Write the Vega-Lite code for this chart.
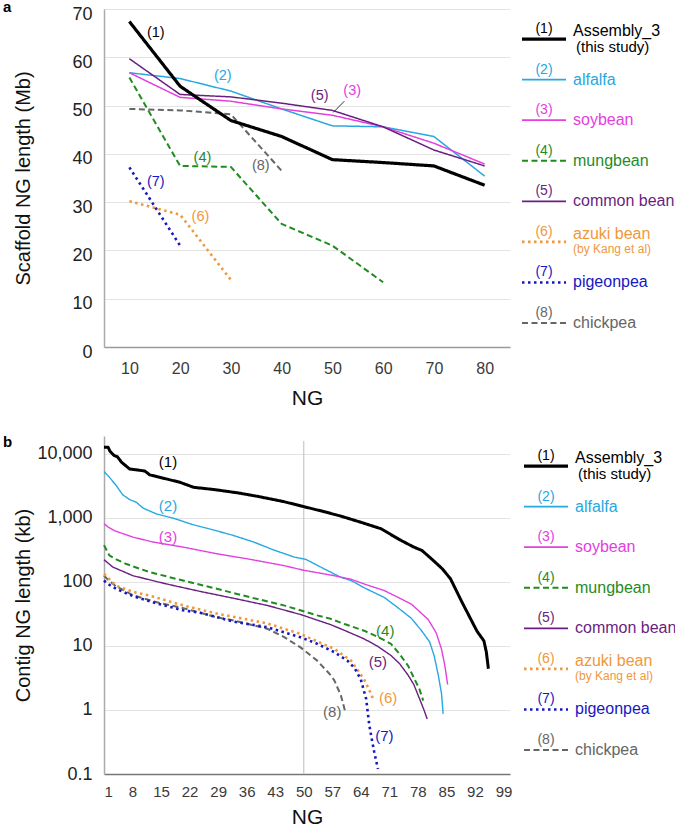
{
  "$schema": "https://vega.github.io/schema/vega-lite/v6.json",
  "padding": {"left": 3, "top": 0, "right": 0, "bottom": 0},
  "config": {
    "font": "Liberation Sans",
    "view": {"stroke": null},
    "axis": {"labelColor": "#333", "titleColor": "#111", "titleFontWeight": "normal", "domainColor": "#9a9a9a", "domainWidth": 1.5, "ticks": false, "gridColor": "#e3e3e3", "gridWidth": 1, "labelOverlap": false},
    "line": {"strokeCap": "butt", "strokeJoin": "round"},
    "rule": {"strokeCap": "butt"}
  },
  "datasets": {
    "a": [
      {"series": "Assembly_3", "ng": 10, "len": 67.4}, {"series": "Assembly_3", "ng": 20, "len": 54}, {"series": "Assembly_3", "ng": 30, "len": 46.9}, {"series": "Assembly_3", "ng": 40, "len": 43.6}, {"series": "Assembly_3", "ng": 50, "len": 38.8}, {"series": "Assembly_3", "ng": 60, "len": 38.2}, {"series": "Assembly_3", "ng": 70, "len": 37.5}, {"series": "Assembly_3", "ng": 80, "len": 33.5},
      {"series": "alfalfa", "ng": 10, "len": 56.8}, {"series": "alfalfa", "ng": 20, "len": 55.6}, {"series": "alfalfa", "ng": 30, "len": 53}, {"series": "alfalfa", "ng": 40, "len": 49.3}, {"series": "alfalfa", "ng": 50, "len": 45.8}, {"series": "alfalfa", "ng": 60, "len": 45.6}, {"series": "alfalfa", "ng": 70, "len": 43.6}, {"series": "alfalfa", "ng": 80, "len": 35.4},
      {"series": "soybean", "ng": 10, "len": 56.8}, {"series": "soybean", "ng": 20, "len": 51.7}, {"series": "soybean", "ng": 30, "len": 50.9}, {"series": "soybean", "ng": 40, "len": 49.3}, {"series": "soybean", "ng": 50, "len": 48}, {"series": "soybean", "ng": 60, "len": 45.6}, {"series": "soybean", "ng": 70, "len": 42.2}, {"series": "soybean", "ng": 80, "len": 37.9},
      {"series": "mungbean", "ng": 10, "len": 55.8}, {"series": "mungbean", "ng": 20, "len": 37.5}, {"series": "mungbean", "ng": 30, "len": 37.3}, {"series": "mungbean", "ng": 40, "len": 25.5}, {"series": "mungbean", "ng": 50, "len": 21}, {"series": "mungbean", "ng": 60, "len": 13.4},
      {"series": "common bean", "ng": 10, "len": 59.7}, {"series": "common bean", "ng": 20, "len": 52.3}, {"series": "common bean", "ng": 30, "len": 51.8}, {"series": "common bean", "ng": 40, "len": 50.5}, {"series": "common bean", "ng": 50, "len": 49}, {"series": "common bean", "ng": 60, "len": 45.6}, {"series": "common bean", "ng": 70, "len": 40.8}, {"series": "common bean", "ng": 80, "len": 37.5},
      {"series": "azuki bean", "ng": 10, "len": 30.2}, {"series": "azuki bean", "ng": 20, "len": 27.4}, {"series": "azuki bean", "ng": 30, "len": 13.9},
      {"series": "pigeonpea", "ng": 10, "len": 37.2}, {"series": "pigeonpea", "ng": 20, "len": 21},
      {"series": "chickpea", "ng": 10, "len": 49.3}, {"series": "chickpea", "ng": 20, "len": 49}, {"series": "chickpea", "ng": 30, "len": 48.2}, {"series": "chickpea", "ng": 40, "len": 36.5}
    ],
    "a_lab": [
      {"series": "Assembly_3", "num": "(1)", "ng": 15.2, "len": 65},
      {"series": "alfalfa", "num": "(2)", "ng": 28.4, "len": 56.1},
      {"series": "soybean", "num": "(3)", "ng": 53.9, "len": 53.1},
      {"series": "mungbean", "num": "(4)", "ng": 24.4, "len": 39.1},
      {"series": "common bean", "num": "(5)", "ng": 47.5, "len": 51.9},
      {"series": "azuki bean", "num": "(6)", "ng": 24, "len": 26.9},
      {"series": "pigeonpea", "num": "(7)", "ng": 15.2, "len": 34.1},
      {"series": "chickpea", "num": "(8)", "ng": 35.9, "len": 37.5}
    ],
    "b": [
      {"series": "Assembly_3", "ng": 1, "len": 12700}, {"series": "Assembly_3", "ng": 2, "len": 12700}, {"series": "Assembly_3", "ng": 2.5, "len": 10900}, {"series": "Assembly_3", "ng": 3.5, "len": 9400}, {"series": "Assembly_3", "ng": 4.3, "len": 9000}, {"series": "Assembly_3", "ng": 5.3, "len": 7400}, {"series": "Assembly_3", "ng": 7.3, "len": 5800}, {"series": "Assembly_3", "ng": 11, "len": 5400}, {"series": "Assembly_3", "ng": 12.2, "len": 4700}, {"series": "Assembly_3", "ng": 16, "len": 4100}, {"series": "Assembly_3", "ng": 19.6, "len": 3600}, {"series": "Assembly_3", "ng": 23, "len": 3000}, {"series": "Assembly_3", "ng": 28, "len": 2770}, {"series": "Assembly_3", "ng": 34, "len": 2450}, {"series": "Assembly_3", "ng": 39, "len": 2150}, {"series": "Assembly_3", "ng": 45, "len": 1800}, {"series": "Assembly_3", "ng": 50, "len": 1500}, {"series": "Assembly_3", "ng": 55, "len": 1250}, {"series": "Assembly_3", "ng": 59, "len": 1070}, {"series": "Assembly_3", "ng": 64, "len": 855}, {"series": "Assembly_3", "ng": 69, "len": 675}, {"series": "Assembly_3", "ng": 72, "len": 520}, {"series": "Assembly_3", "ng": 74, "len": 440}, {"series": "Assembly_3", "ng": 77, "len": 350}, {"series": "Assembly_3", "ng": 79, "len": 310}, {"series": "Assembly_3", "ng": 82, "len": 210}, {"series": "Assembly_3", "ng": 84, "len": 160}, {"series": "Assembly_3", "ng": 86, "len": 112}, {"series": "Assembly_3", "ng": 88.7, "len": 50}, {"series": "Assembly_3", "ng": 91, "len": 26}, {"series": "Assembly_3", "ng": 92.5, "len": 17}, {"series": "Assembly_3", "ng": 94.2, "len": 12}, {"series": "Assembly_3", "ng": 94.8, "len": 8}, {"series": "Assembly_3", "ng": 95.3, "len": 4.4},
      {"series": "alfalfa", "ng": 1, "len": 5300}, {"series": "alfalfa", "ng": 2.3, "len": 4330}, {"series": "alfalfa", "ng": 4, "len": 3200}, {"series": "alfalfa", "ng": 5.6, "len": 2290}, {"series": "alfalfa", "ng": 7.3, "len": 1930}, {"series": "alfalfa", "ng": 8.9, "len": 1760}, {"series": "alfalfa", "ng": 10.6, "len": 1420}, {"series": "alfalfa", "ng": 13.9, "len": 1150}, {"series": "alfalfa", "ng": 18, "len": 990}, {"series": "alfalfa", "ng": 22.9, "len": 780}, {"series": "alfalfa", "ng": 27.8, "len": 650}, {"series": "alfalfa", "ng": 32.8, "len": 530}, {"series": "alfalfa", "ng": 37.7, "len": 420}, {"series": "alfalfa", "ng": 42.6, "len": 316}, {"series": "alfalfa", "ng": 47.6, "len": 245}, {"series": "alfalfa", "ng": 50.5, "len": 225}, {"series": "alfalfa", "ng": 55, "len": 160}, {"series": "alfalfa", "ng": 59.1, "len": 118}, {"series": "alfalfa", "ng": 61.6, "len": 105}, {"series": "alfalfa", "ng": 65, "len": 80}, {"series": "alfalfa", "ng": 69.8, "len": 57}, {"series": "alfalfa", "ng": 73, "len": 40}, {"series": "alfalfa", "ng": 76.4, "len": 27}, {"series": "alfalfa", "ng": 79, "len": 17}, {"series": "alfalfa", "ng": 80.9, "len": 11.5}, {"series": "alfalfa", "ng": 82, "len": 7}, {"series": "alfalfa", "ng": 83, "len": 3.5}, {"series": "alfalfa", "ng": 83.8, "len": 1.8}, {"series": "alfalfa", "ng": 84.2, "len": 0.87},
      {"series": "soybean", "ng": 1, "len": 810}, {"series": "soybean", "ng": 2, "len": 720}, {"series": "soybean", "ng": 3.6, "len": 630}, {"series": "soybean", "ng": 8.1, "len": 500}, {"series": "soybean", "ng": 13, "len": 420}, {"series": "soybean", "ng": 20.4, "len": 350}, {"series": "soybean", "ng": 28.7, "len": 275}, {"series": "soybean", "ng": 36.9, "len": 225}, {"series": "soybean", "ng": 45.1, "len": 180}, {"series": "soybean", "ng": 50, "len": 152}, {"series": "soybean", "ng": 57.5, "len": 125}, {"series": "soybean", "ng": 61.6, "len": 110}, {"series": "soybean", "ng": 65, "len": 92}, {"series": "soybean", "ng": 69.8, "len": 73}, {"series": "soybean", "ng": 73, "len": 58}, {"series": "soybean", "ng": 76.4, "len": 45}, {"series": "soybean", "ng": 80.5, "len": 26}, {"series": "soybean", "ng": 82.5, "len": 16}, {"series": "soybean", "ng": 83.8, "len": 8.9}, {"series": "soybean", "ng": 84.6, "len": 5}, {"series": "soybean", "ng": 85.3, "len": 2.5},
      {"series": "mungbean", "ng": 1, "len": 375}, {"series": "mungbean", "ng": 2.3, "len": 260}, {"series": "mungbean", "ng": 4, "len": 225}, {"series": "mungbean", "ng": 6.5, "len": 190}, {"series": "mungbean", "ng": 12.2, "len": 142}, {"series": "mungbean", "ng": 20.4, "len": 105}, {"series": "mungbean", "ng": 28.7, "len": 78}, {"series": "mungbean", "ng": 36.9, "len": 57.5}, {"series": "mungbean", "ng": 45.1, "len": 43}, {"series": "mungbean", "ng": 53.3, "len": 30}, {"series": "mungbean", "ng": 56.6, "len": 26.5}, {"series": "mungbean", "ng": 60, "len": 22}, {"series": "mungbean", "ng": 64.8, "len": 17.3}, {"series": "mungbean", "ng": 68, "len": 14}, {"series": "mungbean", "ng": 71.4, "len": 10.8}, {"series": "mungbean", "ng": 73.5, "len": 7.5}, {"series": "mungbean", "ng": 75.6, "len": 4.9}, {"series": "mungbean", "ng": 77, "len": 3.2}, {"series": "mungbean", "ng": 78.4, "len": 2.1}, {"series": "mungbean", "ng": 79.3, "len": 1.4},
      {"series": "common bean", "ng": 1, "len": 222}, {"series": "common bean", "ng": 3.2, "len": 170}, {"series": "common bean", "ng": 8.1, "len": 125}, {"series": "common bean", "ng": 16.3, "len": 93}, {"series": "common bean", "ng": 24.6, "len": 71}, {"series": "common bean", "ng": 32.8, "len": 55.5}, {"series": "common bean", "ng": 41, "len": 43}, {"series": "common bean", "ng": 49.2, "len": 31}, {"series": "common bean", "ng": 56.6, "len": 21.5}, {"series": "common bean", "ng": 60, "len": 17.5}, {"series": "common bean", "ng": 64.8, "len": 12.9}, {"series": "common bean", "ng": 68, "len": 10}, {"series": "common bean", "ng": 71.4, "len": 7.1}, {"series": "common bean", "ng": 73.5, "len": 5.3}, {"series": "common bean", "ng": 75.6, "len": 3.5}, {"series": "common bean", "ng": 77, "len": 2.5}, {"series": "common bean", "ng": 78.4, "len": 1.5}, {"series": "common bean", "ng": 79.5, "len": 1}, {"series": "common bean", "ng": 80.3, "len": 0.72},
      {"series": "azuki bean", "ng": 1, "len": 133}, {"series": "azuki bean", "ng": 2, "len": 115}, {"series": "azuki bean", "ng": 4, "len": 87}, {"series": "azuki bean", "ng": 8.1, "len": 70}, {"series": "azuki bean", "ng": 12.2, "len": 61}, {"series": "azuki bean", "ng": 20.4, "len": 43}, {"series": "azuki bean", "ng": 28.7, "len": 32}, {"series": "azuki bean", "ng": 41, "len": 22.5}, {"series": "azuki bean", "ng": 49.2, "len": 15.4}, {"series": "azuki bean", "ng": 53, "len": 12}, {"series": "azuki bean", "ng": 57.5, "len": 9}, {"series": "azuki bean", "ng": 61.6, "len": 5.9}, {"series": "azuki bean", "ng": 64.8, "len": 3}, {"series": "azuki bean", "ng": 66, "len": 2.1}, {"series": "azuki bean", "ng": 67, "len": 1.5},
      {"series": "pigeonpea", "ng": 1, "len": 105}, {"series": "pigeonpea", "ng": 2, "len": 92}, {"series": "pigeonpea", "ng": 4, "len": 78}, {"series": "pigeonpea", "ng": 8.1, "len": 60}, {"series": "pigeonpea", "ng": 14, "len": 46}, {"series": "pigeonpea", "ng": 20.4, "len": 36}, {"series": "pigeonpea", "ng": 24.6, "len": 33}, {"series": "pigeonpea", "ng": 32.8, "len": 24}, {"series": "pigeonpea", "ng": 41, "len": 19.6}, {"series": "pigeonpea", "ng": 49.2, "len": 13.7}, {"series": "pigeonpea", "ng": 53, "len": 11}, {"series": "pigeonpea", "ng": 57.5, "len": 8}, {"series": "pigeonpea", "ng": 60.7, "len": 5.9}, {"series": "pigeonpea", "ng": 62.5, "len": 4.5}, {"series": "pigeonpea", "ng": 64, "len": 3}, {"series": "pigeonpea", "ng": 65.3, "len": 1.5}, {"series": "pigeonpea", "ng": 66.1, "len": 0.57}, {"series": "pigeonpea", "ng": 66.7, "len": 0.35}, {"series": "pigeonpea", "ng": 67.3, "len": 0.22}, {"series": "pigeonpea", "ng": 68.2, "len": 0.12},
      {"series": "chickpea", "ng": 1, "len": 125}, {"series": "chickpea", "ng": 2, "len": 108}, {"series": "chickpea", "ng": 4, "len": 85}, {"series": "chickpea", "ng": 8.1, "len": 62}, {"series": "chickpea", "ng": 14, "len": 48}, {"series": "chickpea", "ng": 20.4, "len": 39}, {"series": "chickpea", "ng": 28.7, "len": 28}, {"series": "chickpea", "ng": 32.8, "len": 25}, {"series": "chickpea", "ng": 41, "len": 18.6}, {"series": "chickpea", "ng": 45, "len": 14}, {"series": "chickpea", "ng": 49.2, "len": 9.5}, {"series": "chickpea", "ng": 53.3, "len": 5.9}, {"series": "chickpea", "ng": 56.6, "len": 3.5}, {"series": "chickpea", "ng": 57.5, "len": 2.9}, {"series": "chickpea", "ng": 59.1, "len": 1.7}, {"series": "chickpea", "ng": 60.3, "len": 0.88}
    ],
    "b_lab": [
      {"series": "Assembly_3", "num": "(1)", "ng": 16.7, "len": 7400},
      {"series": "alfalfa", "num": "(2)", "ng": 16.7, "len": 1550},
      {"series": "soybean", "num": "(3)", "ng": 16.7, "len": 500},
      {"series": "mungbean", "num": "(4)", "ng": 70, "len": 17.4},
      {"series": "common bean", "num": "(5)", "ng": 68.2, "len": 5.7},
      {"series": "azuki bean", "num": "(6)", "ng": 70.7, "len": 1.52},
      {"series": "pigeonpea", "num": "(7)", "ng": 69.8, "len": 0.39},
      {"series": "chickpea", "num": "(8)", "ng": 57, "len": 0.93}
    ],
    "leg": [
      {"series": "Assembly_3", "slot": 1, "num": "(1)", "label": "Assembly_3", "sub": "(this study)"},
      {"series": "alfalfa", "slot": 2, "num": "(2)", "label": "alfalfa", "sub": ""},
      {"series": "soybean", "slot": 3, "num": "(3)", "label": "soybean", "sub": ""},
      {"series": "mungbean", "slot": 4, "num": "(4)", "label": "mungbean", "sub": ""},
      {"series": "common bean", "slot": 5, "num": "(5)", "label": "common bean", "sub": ""},
      {"series": "azuki bean", "slot": 6, "num": "(6)", "label": "azuki bean", "sub": "(by Kang et al)"},
      {"series": "pigeonpea", "slot": 7, "num": "(7)", "label": "pigeonpea", "sub": ""},
      {"series": "chickpea", "slot": 8, "num": "(8)", "label": "chickpea", "sub": ""}
    ]
  },
  "vconcat": [
    {
      "hconcat": [
        {
          "width": 406, "height": 338,
          "layer": [
            {
              "data": {"name": "a"},
              "encoding": {
                "x": {"field": "ng", "type": "quantitative", "scale": {"domain": [5, 85], "nice": false, "zero": false},
                  "axis": {"values": [10, 20, 30, 40, 50, 60, 70, 80], "grid": false, "labelOverlap": false, "labelFontSize": 16, "labelPadding": 13, "title": "NG", "titleFontSize": 21, "titlePadding": 11, "labelColor": "#3a3a3a"}},
                "y": {"field": "len", "type": "quantitative", "scale": {"domain": [0, 70], "nice": false},
                  "axis": {"values": [0, 10, 20, 30, 40, 50, 60, 70], "grid": true, "labelOverlap": false, "labelFontSize": 18, "labelPadding": 12, "labelOffset": 5, "minExtent": 69, "title": "Scaffold NG length (Mb)", "titleFontSize": 20, "titlePadding": 2, "labelColor": "#222", "domainColor": "#aaaaaa"}},
                "color": {"field": "series", "type": "nominal", "legend": null, "scale": {"domain": ["Assembly_3", "alfalfa", "soybean", "mungbean", "common bean", "azuki bean", "pigeonpea", "chickpea"], "range": ["#000000", "#27a8e0", "#e440e0", "#1f8c1f", "#6a1f80", "#f0983c", "#1717c2", "#666666"]}},
                "strokeDash": {"field": "series", "type": "nominal", "legend": null, "scale": {"domain": ["Assembly_3", "alfalfa", "soybean", "mungbean", "common bean", "azuki bean", "pigeonpea", "chickpea"], "range": [[1, 0], [1, 0], [1, 0], [6, 3.5], [1, 0], [2.5, 3.5], [2.5, 3.5], [6, 3.5]]}}
              },
              "layer": [
                {"transform": [{"filter": "datum.series == 'alfalfa' || datum.series == 'soybean' || datum.series == 'common bean'"}], "mark": {"type": "line", "strokeWidth": 1.5}},
                {"transform": [{"filter": "datum.series == 'mungbean' || datum.series == 'chickpea'"}], "mark": {"type": "line", "strokeWidth": 2}},
                {"transform": [{"filter": "datum.series == 'azuki bean' || datum.series == 'pigeonpea'"}], "mark": {"type": "line", "strokeWidth": 2.6}},
                {"transform": [{"filter": "datum.series == 'Assembly_3'"}], "mark": {"type": "line", "strokeWidth": 3.2}},
                {
                  "data": {"name": "a_lab"},
                  "mark": {"type": "text", "fontSize": 14.5, "align": "center", "baseline": "middle"},
                  "encoding": {"text": {"field": "num"}}
                }
              ]
            },
            {
              "data": {"values": [{"ng1": 52.35, "len1": 50.9, "ng2": 50.2, "len2": 48.6}]},
              "mark": {"type": "rule", "color": "#333333", "strokeWidth": 1},
              "encoding": {
                "x": {"field": "ng1", "type": "quantitative"},
                "y": {"field": "len1", "type": "quantitative"},
                "x2": {"field": "ng2"},
                "y2": {"field": "len2"}
              }
            },
            {
              "data": {"values": [{"panel": "a"}]},
              "mark": {"type": "text", "fontSize": 15, "fontWeight": "bold", "align": "left", "baseline": "alphabetic", "dx": -101, "dy": 3, "color": "#000000"},
              "encoding": {
                "x": {"datum": 5, "type": "quantitative"},
                "y": {"datum": 70, "type": "quantitative"},
                "text": {"field": "panel"}
              }
            }
          ]
        },
        {
          "width": 165, "height": 338,
          "data": {"name": "leg"},
          "encoding": {
            "y": {"field": "slot", "type": "quantitative", "scale": {"domain": [0.26, 8.59], "reverse": true, "nice": false, "zero": false}, "axis": null},
            "x": {"datum": 12, "type": "quantitative", "scale": {"domain": [0, 165], "nice": false, "zero": false}, "axis": null},
            "color": {"field": "series", "type": "nominal", "legend": null}
          },
          "layer": [
            {"transform": [{"filter": "datum.series == 'alfalfa' || datum.series == 'soybean' || datum.series == 'common bean'"}], "mark": {"type": "rule", "strokeWidth": 1.8}, "encoding": {"x2": {"datum": 56}, "strokeDash": {"field": "series", "type": "nominal", "legend": null}}},
            {"transform": [{"filter": "datum.series == 'mungbean' || datum.series == 'chickpea'"}], "mark": {"type": "rule", "strokeWidth": 2}, "encoding": {"x2": {"datum": 56}, "strokeDash": {"field": "series", "type": "nominal", "legend": null}}},
            {"transform": [{"filter": "datum.series == 'azuki bean' || datum.series == 'pigeonpea'"}], "mark": {"type": "rule", "strokeWidth": 2.6}, "encoding": {"x2": {"datum": 56}, "strokeDash": {"field": "series", "type": "nominal", "legend": null}}},
            {"transform": [{"filter": "datum.series == 'Assembly_3'"}], "mark": {"type": "rule", "strokeWidth": 3.2}, "encoding": {"x2": {"datum": 56}}},
            {
              "mark": {"type": "text", "fontSize": 14, "align": "center", "baseline": "alphabetic", "dy": -6},
              "encoding": {"x": {"datum": 34, "type": "quantitative"}, "text": {"field": "num"}}
            },
            {
              "transform": [{"filter": "datum.sub == ''"}],
              "mark": {"type": "text", "fontSize": 16, "align": "left", "baseline": "alphabetic", "dy": 5},
              "encoding": {"x": {"datum": 63, "type": "quantitative"}, "text": {"field": "label"}}
            },
            {
              "transform": [{"filter": "datum.sub != ''"}],
              "mark": {"type": "text", "fontSize": 16, "align": "left", "baseline": "alphabetic", "dy": -3},
              "encoding": {"x": {"datum": 63, "type": "quantitative"}, "text": {"field": "label"}}
            },
            {
              "transform": [{"filter": "datum.series == 'Assembly_3'"}],
              "mark": {"type": "text", "fontSize": 15, "align": "left", "baseline": "alphabetic", "dy": 12.5},
              "encoding": {"x": {"datum": 66, "type": "quantitative"}, "text": {"field": "sub"}}
            },
            {
              "transform": [{"filter": "datum.series == 'azuki bean'"}],
              "mark": {"type": "text", "fontSize": 12, "align": "left", "baseline": "alphabetic", "dy": 11},
              "encoding": {"x": {"datum": 63, "type": "quantitative"}, "text": {"field": "sub"}}
            }
          ]
        }
      ],
      "spacing": 0
    },
    {
      "hconcat": [
        {
          "width": 406, "height": 338,
          "layer": [
            {
              "data": {"name": "b"},
              "encoding": {
                "x": {"field": "ng", "type": "quantitative", "scale": {"domain": [1, 100.6], "nice": false, "zero": false},
                  "axis": {"values": [1, 8, 15, 22, 29, 36, 43, 50, 57, 64, 71, 78, 85, 92, 99], "grid": false, "labelOverlap": false, "labelFontSize": 15, "labelPadding": 10, "title": "NG", "titleFontSize": 21, "titlePadding": 7, "labelColor": "#3a3a3a", "domainColor": "#777777"}},
                "y": {"field": "len", "type": "quantitative", "scale": {"type": "log", "domain": [0.1, 19000], "nice": false},
                  "axis": {"values": [0.1, 1, 10, 100, 1000, 10000], "format": ",", "grid": true, "labelOverlap": false, "labelFontSize": 18, "labelPadding": 12, "minExtent": 69, "title": "Contig NG length (kb)", "titleFontSize": 20, "titlePadding": 2, "labelColor": "#222", "domainColor": "#aaaaaa"}},
                "color": {"field": "series", "type": "nominal", "legend": null},
                "strokeDash": {"field": "series", "type": "nominal", "legend": null}
              },
              "layer": [
                {
                  "data": {"values": [{"ng": 50}]},
                  "mark": {"type": "rule", "strokeWidth": 1.2},
                  "encoding": {"y": {"value": 5}, "y2": {"value": 338}, "color": {"value": "#c8c8c8"}, "strokeDash": {"value": [1, 0]}}
                },
                {"transform": [{"filter": "datum.series == 'alfalfa' || datum.series == 'soybean' || datum.series == 'common bean'"}], "mark": {"type": "line", "strokeWidth": 1.4}},
                {"transform": [{"filter": "datum.series == 'mungbean' || datum.series == 'chickpea'"}], "mark": {"type": "line", "strokeWidth": 2}},
                {"transform": [{"filter": "datum.series == 'azuki bean' || datum.series == 'pigeonpea'"}], "mark": {"type": "line", "strokeWidth": 2.6}},
                {"transform": [{"filter": "datum.series == 'Assembly_3'"}], "mark": {"type": "line", "strokeWidth": 3}},
                {
                  "data": {"name": "b_lab"},
                  "mark": {"type": "text", "fontSize": 15, "align": "center", "baseline": "middle"},
                  "encoding": {"text": {"field": "num"}}
                }
              ]
            },
            {
              "data": {"values": [{"panel": "b"}]},
              "mark": {"type": "text", "fontSize": 15, "fontWeight": "bold", "align": "left", "baseline": "alphabetic", "dx": -101, "dy": 11, "color": "#000000"},
              "encoding": {
                "x": {"datum": 1, "type": "quantitative",
                  "axis": {"values": [1, 8, 15, 22, 29, 36, 43, 50, 57, 64, 71, 78, 85, 92, 99], "grid": false, "labelOverlap": false, "labelFontSize": 15, "labelPadding": 10, "title": "NG", "titleFontSize": 21, "titlePadding": 7, "labelColor": "#3a3a3a", "domainColor": "#777777"}},
                "y": {"datum": 19000, "type": "quantitative",
                  "axis": {"values": [0.1, 1, 10, 100, 1000, 10000], "format": ",", "grid": true, "labelOverlap": false, "labelFontSize": 18, "labelPadding": 12, "minExtent": 69, "title": "Contig NG length (kb)", "titleFontSize": 20, "titlePadding": 2, "labelColor": "#222", "domainColor": "#aaaaaa"}},
                "text": {"field": "panel"}
              }
            }
          ]
        },
        {
          "width": 165, "height": 338,
          "data": {"name": "leg"},
          "encoding": {
            "y": {"field": "slot", "type": "quantitative", "scale": {"domain": [0.26, 8.59], "reverse": true, "nice": false, "zero": false}, "axis": null},
            "x": {"datum": 12, "type": "quantitative", "scale": {"domain": [0, 165], "nice": false, "zero": false}, "axis": null},
            "color": {"field": "series", "type": "nominal", "legend": null}
          },
          "layer": [
            {"transform": [{"filter": "datum.series == 'alfalfa' || datum.series == 'soybean' || datum.series == 'common bean'"}], "mark": {"type": "rule", "strokeWidth": 1.8}, "encoding": {"x2": {"datum": 56}, "strokeDash": {"field": "series", "type": "nominal", "legend": null}}},
            {"transform": [{"filter": "datum.series == 'mungbean' || datum.series == 'chickpea'"}], "mark": {"type": "rule", "strokeWidth": 2}, "encoding": {"x2": {"datum": 56}, "strokeDash": {"field": "series", "type": "nominal", "legend": null}}},
            {"transform": [{"filter": "datum.series == 'azuki bean' || datum.series == 'pigeonpea'"}], "mark": {"type": "rule", "strokeWidth": 2.6}, "encoding": {"x2": {"datum": 56}, "strokeDash": {"field": "series", "type": "nominal", "legend": null}}},
            {"transform": [{"filter": "datum.series == 'Assembly_3'"}], "mark": {"type": "rule", "strokeWidth": 3.2}, "encoding": {"x2": {"datum": 56}}},
            {
              "mark": {"type": "text", "fontSize": 14, "align": "center", "baseline": "alphabetic", "dy": -6},
              "encoding": {"x": {"datum": 34, "type": "quantitative"}, "text": {"field": "num"}}
            },
            {
              "transform": [{"filter": "datum.sub == ''"}],
              "mark": {"type": "text", "fontSize": 16, "align": "left", "baseline": "alphabetic", "dy": 5},
              "encoding": {"x": {"datum": 63, "type": "quantitative"}, "text": {"field": "label"}}
            },
            {
              "transform": [{"filter": "datum.sub != ''"}],
              "mark": {"type": "text", "fontSize": 16, "align": "left", "baseline": "alphabetic", "dy": -3},
              "encoding": {"x": {"datum": 63, "type": "quantitative"}, "text": {"field": "label"}}
            },
            {
              "transform": [{"filter": "datum.series == 'Assembly_3'"}],
              "mark": {"type": "text", "fontSize": 15, "align": "left", "baseline": "alphabetic", "dy": 12.5},
              "encoding": {"x": {"datum": 66, "type": "quantitative"}, "text": {"field": "sub"}}
            },
            {
              "transform": [{"filter": "datum.series == 'azuki bean'"}],
              "mark": {"type": "text", "fontSize": 12, "align": "left", "baseline": "alphabetic", "dy": 11},
              "encoding": {"x": {"datum": 63, "type": "quantitative"}, "text": {"field": "sub"}}
            }
          ]
        }
      ],
      "spacing": 0
    }
  ],
  "spacing": 27
}
